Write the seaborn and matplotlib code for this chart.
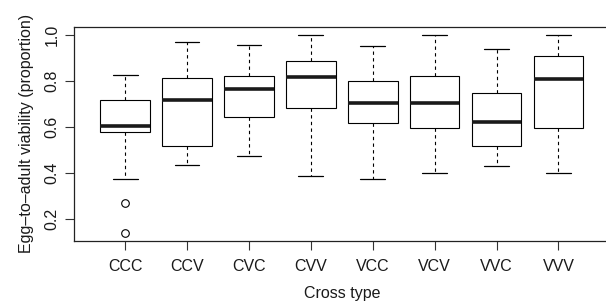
import matplotlib
matplotlib.use("Agg")
import matplotlib.pyplot as plt
import seaborn as sns
import pandas as pd
import numpy as np

sns.set_theme(style="white")
plt.rcParams["font.family"] = ["Liberation Sans", "DejaVu Sans"]

# five-number summaries (lower whisker, Q1, median, Q3, upper whisker)
crosses = ["CCC", "CCV", "CVC", "CVV", "VCC", "VCV", "VVC", "VVV"]
whisk_lo = [0.374, 0.433, 0.474, 0.384, 0.371, 0.397, 0.429, 0.398]
q1 = [0.579, 0.516, 0.640, 0.680, 0.615, 0.595, 0.518, 0.596]
median = [0.602, 0.715, 0.764, 0.816, 0.704, 0.704, 0.620, 0.809]
q3 = [0.717, 0.813, 0.819, 0.885, 0.799, 0.821, 0.746, 0.906]
whisk_hi = [0.826, 0.967, 0.954, 1.000, 0.951, 1.000, 0.937, 1.000]
outlier_cross = ["CCC", "CCC"]
outlier_vals = [0.267, 0.139]

rows = []
for i, c in enumerate(crosses):
    for v in (whisk_lo[i], q1[i], median[i], q3[i], whisk_hi[i]):
        rows.append({"cross": c, "viability": v})
df = pd.DataFrame(rows)

fig = plt.figure(figsize=(6.06, 3.04), dpi=100)
ax = fig.add_axes([0.1228, 0.2082, 0.8825, 0.7046])

sns.boxplot(data=df, x="cross", y="viability", order=crosses, ax=ax,
            whis=(0, 100), width=0.8, color="white", linecolor="black",
            linewidth=0.8, showfliers=False,
            medianprops=dict(linewidth=2.6, color="#1a1a1a"),
            whiskerprops=dict(linestyle=(0, (3, 3)), linewidth=0.8),
            capprops=dict(linewidth=0.9))

ox = [crosses.index(c) for c in outlier_cross]
ax.scatter(ox, outlier_vals, s=30, facecolors="white", edgecolors="black",
           linewidths=0.8, zorder=5)

ax.set_xlim(-0.82, 7.82)
ax.set_ylim(0.105, 1.035)
ax.set_yticks([0.2, 0.4, 0.6, 0.8, 1.0])
ax.set_yticklabels(["0.2", "0.4", "0.6", "0.8", "1.0"], rotation=90, va="center")
ax.set_xticks(range(len(crosses)))
ax.set_xticklabels(crosses)

for s in ax.spines.values():
    s.set_visible(True)
    s.set_color("#222222")
    s.set_linewidth(0.9)

ax.tick_params(axis="both", which="both", direction="out", length=6.5,
               width=0.8, color="#333333", labelsize=11.5, labelcolor="#1a1a1a")
ax.tick_params(axis="y", pad=4, left=True)
ax.tick_params(axis="x", pad=6.5, bottom=True)

ax.set_xlabel("Cross type", fontsize=11.5, color="#1a1a1a", labelpad=9)
ax.set_ylabel("Egg\u2013to\u2013adult viability (proportion)", fontsize=11.5,
              color="#1a1a1a", labelpad=8)
ax.grid(False)

fig.savefig("out.png", dpi=100)
